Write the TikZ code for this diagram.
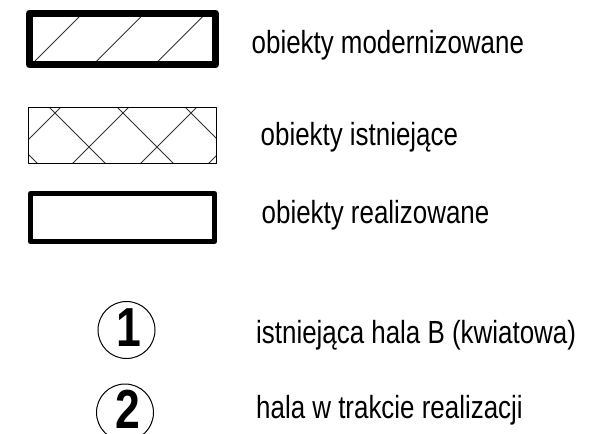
\documentclass[tikz,border=0pt]{standalone}
\usepackage{fontspec}
\newfontfamily\legendfont[FakeStretch=0.81]{Liberation Sans}
\usepackage{tikz}

\begin{document}
\begin{tikzpicture}[x=1pt, y=-1pt,
  legendbox/.style={draw, rectangle, inner sep=0pt, line join=round},
  hatchline/.style={line width=0.9pt, black!80},
  legendtext/.style={anchor=base west, inner sep=0pt, font=\legendfont\fontsize{32pt}{32pt}\selectfont},
  numcircle/.style={draw, circle, line width=1pt, minimum size=57pt, inner sep=0pt},
  numdigit/.style={inner sep=0pt, font=\legendfont\bfseries\fontsize{55pt}{55pt}\selectfont}]%
\useasboundingbox (0,0) rectangle (614,434);%
% boxes (path picture origin is the node centre)
\node[legendbox, line width=7.5pt, minimum width=185.6pt, minimum height=51.4pt,
  path picture={\foreach \c in {96,157.7,219.3} \draw[hatchline] ({\c-70-122.5},31) -- ({\c-10-122.5},-29);}] (modbox) at (122.5, 39) {};%
\node[legendbox, line width=1pt, minimum width=188pt, minimum height=56pt,
  path picture={\foreach \c in {-126,-58,10,78} \draw[hatchline] ({\c+100-122.5},-35.5) -- ({\c+170-122.5},34.5);%
    \foreach \c in {168,236,304,372} \draw[hatchline] ({\c-100-122.5},-35.5) -- ({\c-170-122.5},34.5);}] (oldbox) at (122.5, 135.5) {};%
\node[legendbox, line width=5pt, minimum width=184pt, minimum height=48pt] (newbox) at (122.5, 217.5) {};%
% circles
\node[numcircle] (hall1) at (126.5, 330) {};%
\node[numcircle] (hall2) at (125, 412.5) {};%
\node[numdigit] (hall1num) at ([shift={(2.5,-2)}]hall1.center) {1};%
\node[numdigit] (hall2num) at ([shift={(3,-3.5)}]hall2.center) {2};%
% texts
\node[legendtext] (modtext) at (251.5, 53.3) {obiekty modernizowane};%
\node[legendtext] (oldtext) at (260.5, 145) {obiekty istniejące};%
\node[legendtext] (newtext) at (261.5, 223) {obiekty realizowane};%
\node[legendtext] (hall1text) at (256, 343) {istniejąca hala B (kwiatowa)};%
\node[legendtext] (hall2text) at (256, 418) {hala w trakcie realizacji};%
\end{tikzpicture}
\end{document}
